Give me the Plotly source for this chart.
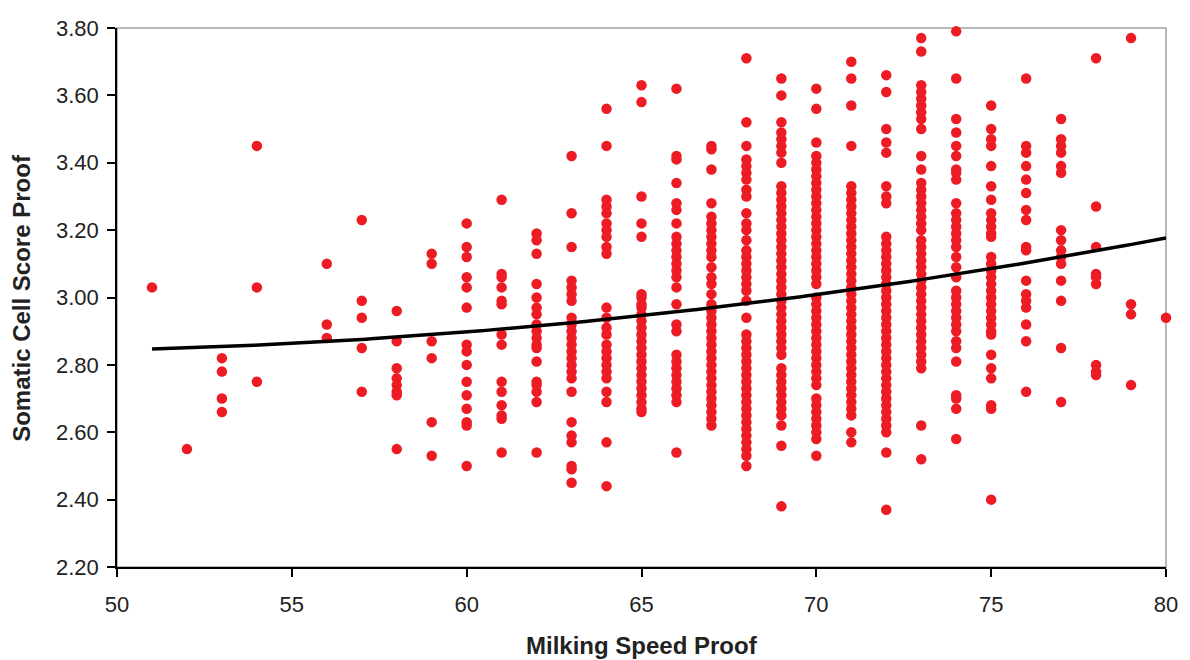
import numpy as np
import plotly.graph_objects as go

# Somatic Cell Score Proof values, grouped by Milking Speed Proof (x)
scs_51 = [3.03]
scs_52 = [2.55]
scs_53 = [2.82, 2.78, 2.70, 2.66]
scs_54 = [3.45, 3.03, 2.75]
scs_56 = [3.10, 2.92, 2.88]
scs_57 = [3.23, 2.99, 2.94, 2.85, 2.72]
scs_58 = [2.96, 2.87, 2.79, 2.76, 2.74, 2.72, 2.71, 2.55]
scs_59 = [3.13, 3.10, 2.87, 2.82, 2.63, 2.53]
scs_60 = [3.22, 3.15, 3.12, 3.06, 3.03, 2.97, 2.86, 2.84, 2.80, 2.75, 2.71, 2.67, 2.63, 2.62, 2.50]
scs_61 = [3.29, 3.07, 3.06, 3.03, 2.99, 2.98, 2.89, 2.86, 2.75, 2.72, 2.68, 2.65, 2.64, 2.54]
scs_62 = [3.19, 3.17, 3.13, 3.04, 3.00, 2.97, 2.95, 2.92, 2.90, 2.88, 2.86, 2.85, 2.81, 2.75,
          2.74, 2.72, 2.69, 2.54]
scs_63 = [3.42, 3.25, 3.15, 3.05, 3.03, 3.01, 2.99, 2.94, 2.92, 2.90, 2.88, 2.86, 2.84, 2.82,
          2.80, 2.78, 2.76, 2.72, 2.63, 2.59, 2.57, 2.50, 2.49, 2.45]
scs_64 = [3.56, 3.45, 3.29, 3.27, 3.25, 3.22, 3.20, 3.18, 3.15, 3.13, 2.97, 2.94, 2.91, 2.89,
          2.86, 2.84, 2.82, 2.80, 2.78, 2.76, 2.72, 2.69, 2.57, 2.44]
scs_65 = [3.63, 3.58, 3.30, 3.22, 3.18, 3.01, 3.00, 2.98, 2.97, 2.95, 2.93, 2.91, 2.89, 2.87,
          2.85, 2.83, 2.81, 2.79, 2.77, 2.75, 2.73, 2.71, 2.69, 2.67, 2.66]
scs_66 = [3.62, 3.42, 3.41, 3.34, 3.28, 3.26, 3.22, 3.18, 3.16, 3.14, 3.12, 3.10, 3.08, 3.06,
          3.03, 2.98, 2.92, 2.90, 2.83, 2.81, 2.79, 2.77, 2.75, 2.73, 2.71, 2.69, 2.54]
scs_67 = [3.45, 3.44, 3.38, 3.28, 3.24, 3.22, 3.20, 3.18, 3.16, 3.14, 3.12, 3.09, 3.06, 3.04,
          3.01, 2.98, 2.96, 2.94, 2.92, 2.90, 2.88, 2.86, 2.84, 2.82, 2.80, 2.78, 2.76, 2.74,
          2.72, 2.70, 2.68, 2.66, 2.64, 2.62]
scs_68 = [3.71, 3.52, 3.45, 3.41, 3.39, 3.37, 3.35, 3.32, 3.30, 3.25, 3.22, 3.20, 3.17, 3.14,
          3.12, 3.10, 3.08, 3.06, 3.04, 3.02, 2.99, 2.94, 2.89, 2.87, 2.85, 2.83, 2.81, 2.79,
          2.77, 2.75, 2.73, 2.71, 2.69, 2.67, 2.65, 2.63, 2.61, 2.59, 2.57, 2.55, 2.53, 2.50]
scs_69 = [3.65, 3.60, 3.52, 3.49, 3.47, 3.45, 3.43, 3.40, 3.33, 3.31, 3.29, 3.27, 3.25, 3.23,
          3.21, 3.19, 3.17, 3.15, 3.13, 3.11, 3.09, 3.07, 3.05, 3.03, 3.01, 2.99, 2.97, 2.95,
          2.93, 2.91, 2.89, 2.87, 2.85, 2.83, 2.79, 2.77, 2.75, 2.73, 2.71, 2.69, 2.67, 2.65,
          2.62, 2.56, 2.38]
scs_70 = [3.62, 3.56, 3.46, 3.42, 3.40, 3.38, 3.36, 3.34, 3.32, 3.30, 3.28, 3.26, 3.24, 3.22,
          3.20, 3.18, 3.16, 3.14, 3.12, 3.10, 3.08, 3.06, 3.04, 3.00, 2.98, 2.96, 2.94, 2.92,
          2.90, 2.88, 2.86, 2.84, 2.82, 2.80, 2.78, 2.76, 2.74, 2.70, 2.68, 2.66, 2.64, 2.62,
          2.60, 2.58, 2.53]
scs_71 = [3.70, 3.65, 3.57, 3.45, 3.33, 3.31, 3.29, 3.27, 3.25, 3.23, 3.21, 3.19, 3.17, 3.15,
          3.13, 3.11, 3.09, 3.07, 3.05, 3.03, 3.01, 2.99, 2.97, 2.95, 2.93, 2.91, 2.89, 2.87,
          2.85, 2.83, 2.81, 2.79, 2.77, 2.75, 2.73, 2.71, 2.69, 2.67, 2.65, 2.60, 2.57]
scs_72 = [3.66, 3.61, 3.50, 3.46, 3.43, 3.33, 3.30, 3.28, 3.18, 3.16, 3.14, 3.12, 3.10, 3.08,
          3.06, 3.04, 3.02, 3.00, 2.98, 2.96, 2.94, 2.92, 2.90, 2.88, 2.86, 2.84, 2.82, 2.80,
          2.78, 2.76, 2.74, 2.72, 2.70, 2.68, 2.66, 2.64, 2.62, 2.60, 2.54, 2.37]
scs_73 = [3.77, 3.73, 3.63, 3.61, 3.59, 3.57, 3.55, 3.53, 3.50, 3.42, 3.38, 3.34, 3.32, 3.30,
          3.28, 3.26, 3.24, 3.22, 3.20, 3.17, 3.15, 3.13, 3.11, 3.09, 3.07, 3.05, 3.03, 3.01,
          2.99, 2.97, 2.95, 2.93, 2.91, 2.89, 2.87, 2.85, 2.83, 2.81, 2.79, 2.62, 2.52]
scs_74 = [3.79, 3.65, 3.53, 3.49, 3.45, 3.42, 3.38, 3.37, 3.35, 3.28, 3.25, 3.23, 3.21, 3.19,
          3.17, 3.15, 3.12, 3.09, 3.06, 3.02, 3.00, 2.98, 2.96, 2.94, 2.92, 2.90, 2.87, 2.85,
          2.81, 2.71, 2.70, 2.67, 2.58]
scs_75 = [3.57, 3.50, 3.47, 3.45, 3.39, 3.33, 3.29, 3.25, 3.23, 3.21, 3.19, 3.18, 3.12, 3.10,
          3.08, 3.06, 3.04, 3.02, 3.00, 2.98, 2.96, 2.94, 2.92, 2.90, 2.89, 2.83, 2.79, 2.76,
          2.68, 2.67, 2.40]
scs_76 = [3.65, 3.45, 3.43, 3.39, 3.35, 3.31, 3.26, 3.23, 3.15, 3.14, 3.05, 3.01, 2.99, 2.97,
          2.92, 2.87, 2.72]
scs_77 = [3.53, 3.47, 3.45, 3.43, 3.39, 3.37, 3.20, 3.17, 3.14, 3.12, 3.10, 3.05, 2.99, 2.85, 2.69]
scs_78 = [3.71, 3.27, 3.15, 3.07, 3.06, 3.04, 2.80, 2.78, 2.77]
scs_79 = [3.77, 2.98, 2.95, 2.74]
scs_80 = [2.94]

speed_levels = [51, 52, 53, 54, 56, 57, 58, 59, 60, 61, 62, 63, 64, 65, 66, 67, 68, 69,
                70, 71, 72, 73, 74, 75, 76, 77, 78, 79, 80]
scs_columns = [scs_51, scs_52, scs_53, scs_54, scs_56, scs_57, scs_58, scs_59, scs_60,
               scs_61, scs_62, scs_63, scs_64, scs_65, scs_66, scs_67, scs_68, scs_69,
               scs_70, scs_71, scs_72, scs_73, scs_74, scs_75, scs_76, scs_77, scs_78,
               scs_79, scs_80]

# Polynomial (order 2) trendline: y = c0 + c1*(x-51) + c2*(x-51)^2
trend_coef = [2.847, 0.00305, 0.000287]
trend_start = 51
trend_end = 80

x_ticks = [50, 55, 60, 65, 70, 75, 80]
y_ticks = [2.2, 2.4, 2.6, 2.8, 3.0, 3.2, 3.4, 3.6, 3.8]

xs, ys = [], []
for lvl, col in zip(speed_levels, scs_columns):
    xs.extend([lvl] * len(col))
    ys.extend(col)

tx = np.linspace(trend_start, trend_end, 200)
d = tx - trend_start
ty = trend_coef[0] + trend_coef[1] * d + trend_coef[2] * d ** 2

FONT = "Liberation Sans, Arial, sans-serif"
TXT = "#222222"

W, H = 1190, 660
M_L, M_R, M_T, M_B = 117, 20, 28, 93
PLOT_W = W - M_L - M_R
PLOT_H = H - M_T - M_B

fig = go.Figure()
fig.add_trace(go.Scatter(
    x=xs, y=ys, mode="markers",
    marker=dict(size=10.5, color="#ED1C24", line=dict(width=0)),
    cliponaxis=False, showlegend=False))
fig.add_trace(go.Scatter(
    x=tx, y=ty, mode="lines", line=dict(color="black", width=3.5),
    showlegend=False))

fig.add_shape(type="rect", xref="paper", yref="paper", x0=0, x1=1, y0=0, y1=1,
              line=dict(color="#a0a0a0", width=1.5), layer="below")

fig.update_layout(
    width=W, height=H,
    margin=dict(l=M_L, r=M_R, t=M_T, b=M_B),
    paper_bgcolor="white", plot_bgcolor="white",
    hovermode=False,
    font=dict(family=FONT, size=22, color=TXT),
    xaxis=dict(range=[50, 80], tickvals=x_ticks, ticks="outside", ticklen=8,
               tickwidth=1.5, tickcolor="black", showline=True, linecolor="black",
               linewidth=1.5, showgrid=False, zeroline=False,
               tickfont=dict(family=FONT, size=22, color=TXT), ticklabelstandoff=9),
    yaxis=dict(range=[2.2, 3.8], tickvals=y_ticks, tickformat=".2f", ticks="outside",
               ticklen=8, tickwidth=1.5, tickcolor="black", showline=True,
               linecolor="black", linewidth=1.5, showgrid=False, zeroline=False,
               tickfont=dict(family=FONT, size=22, color=TXT), ticklabelstandoff=4),
    annotations=[
        dict(text="<b>Milking Speed Proof</b>", xref="paper", yref="paper",
             x=0.5, y=-(645 - (H - M_B)) / PLOT_H, xanchor="center", yanchor="middle",
             showarrow=False, font=dict(family=FONT, size=24, color=TXT)),
        dict(text="<b>Somatic Cell Score Proof</b>", xref="paper", yref="paper",
             x=-(M_L - 21) / PLOT_W, y=0.5, xanchor="center", yanchor="middle",
             textangle=-90, showarrow=False, font=dict(family=FONT, size=24, color=TXT)),
    ],
)

fig.write_html(
    "out.html",
    config={"displayModeBar": False},
    post_script="document.body.style.margin='0';document.body.style.overflow='hidden';",
)
